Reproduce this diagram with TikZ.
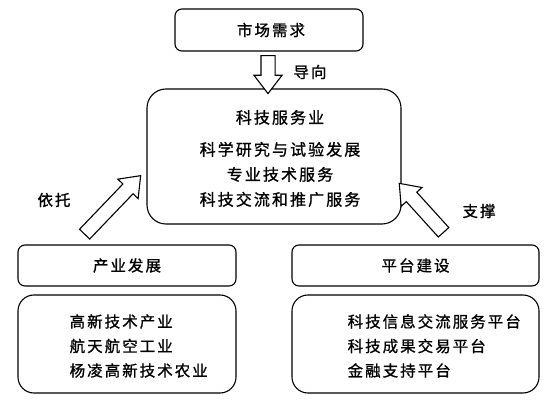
\documentclass[tikz,border=0pt]{standalone}
\usepackage{fontspec}
\newfontfamily\cjk[LetterSpace=13,FakeBold=1]{Noto Sans CJK SC}
\usetikzlibrary{shapes.arrows,calc}

\begin{document}
\begin{tikzpicture}[x=1pt, y=-1pt, rounded corners,
  txt/.style={font=\cjk\fontsize{15.5}{24.5}\selectfont, inner sep=0pt},
  box/.style={txt, draw, line width=1.1pt, rounded corners=7pt},
  bigbox/.style={box, rounded corners=16pt},
  hollow/.style={single arrow, draw, line width=1.1pt, fill=white, sharp corners,
    inner xsep=0pt, inner ysep=6.5pt, minimum width=0pt,
    single arrow head extend=7pt, single arrow tip angle=75,
    sloped, allow upside down}]
\useasboundingbox (0,0) rectangle (546,403);

% top and centre
\node[box, minimum width=188pt, minimum height=42pt] (market) at (269,30) {\hspace{4pt}市场需求};
\node[bigbox, rounded corners=19pt, minimum width=254pt, minimum height=135pt] (main) at (274,156.5) {};
\node[txt, font=\cjk\fontsize{16}{25}\selectfont, align=center] (maintext) at ([xshift=6pt,yshift=-2pt]main.center)
  {科技服务业\\[7pt]科学研究与试验发展\\专业技术服务\\科技交流和推广服务};

% bottom boxes
\node[box, minimum width=218pt, minimum height=41pt] (indhead) at (127,265.5) {产业发展};
\node[bigbox, minimum width=218pt, minimum height=98pt] (indlist) at (127,344) {};
\node[txt, anchor=west, align=left] (indtext) at ([xshift=52pt,yshift=-2pt]indlist.west)
  {高新技术产业\\航天航空工业\\杨凌高新技术农业};
\node[box, minimum width=247pt, minimum height=41pt] (plathead) at (415.5,265.5) {平台建设};
\node[bigbox, minimum width=247pt, minimum height=98pt] (platlist) at (415.5,344) {};
\node[txt, anchor=west, align=left] (plattext) at ([xshift=56pt,yshift=-2pt]platlist.west)
  {科技信息交流服务平台\\科技成果交易平台\\金融支持平台};

% hollow arrows
\coordinate (guidetop) at ([xshift=-1pt]market.south);
\path (guidetop) -- node[hollow, minimum height=38pt] (guidearrow) {} (guidetop |- main.north);
\coordinate (reltail) at ([xshift=64pt,yshift=7pt]indhead.north west);
\coordinate (reltip) at ($(main.west)+(-9,22.5)$);
\path (reltail) -- node[hollow, minimum height=81pt] (relyarrow) {} (reltip);
\coordinate (supptail) at ([xshift=155pt,yshift=9pt]plathead.north west);
\coordinate (supptip) at ($(main.east)+(1,30.5)$);
\path (supptail) -- node[hollow, minimum height=66pt] (supparrow) {} (supptip);

% labels
\node[txt] (guidelbl) at (310,72) {导向};
\node[txt] (relylbl) at (54,200) {依托};
\node[txt] (supplbl) at (479,211) {支撑};
\end{tikzpicture}
\end{document}
